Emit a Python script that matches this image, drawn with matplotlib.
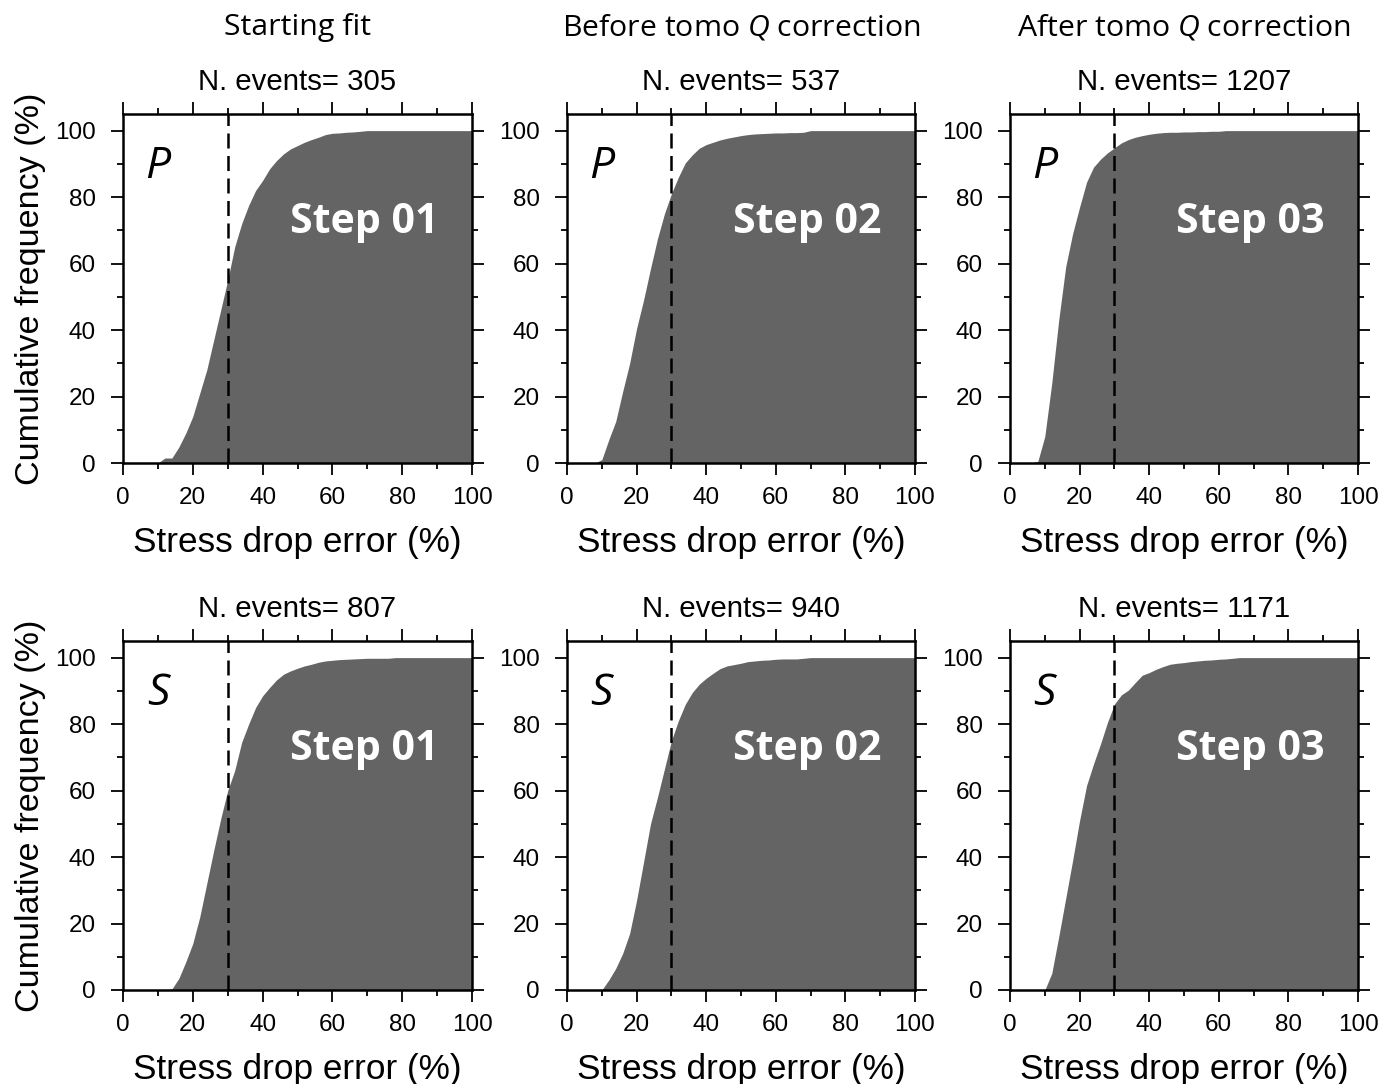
import numpy as np
import matplotlib
matplotlib.use("Agg")
import matplotlib.pyplot as plt
from matplotlib.ticker import MultipleLocator

# ── cumulative distributions of stress-drop error, sampled every 2 % ─────────
ERR = np.arange(0, 101, 2)

P_STEP01 = [0, 0, 0, 0, 0, 0, 1.5, 1.5, 4.8, 9, 14, 21, 28, 37, 46, 55, 65,
            72, 77.5, 82, 85, 88.5, 91, 93, 94.5, 95.5, 96.5, 97.3, 98, 98.8,
            99.2, 99.3, 99.5, 99.6, 99.8, 100, 100, 100, 100, 100, 100, 100,
            100, 100, 100, 100, 100, 100, 100, 100, 100]
P_STEP02 = [0, 0, 0, 0, 0, 1, 7, 12.5, 21.5, 30, 40.5, 49, 58.5, 67.5, 75,
            81, 86, 90.3, 92.7, 94.7, 95.8, 96.5, 97.2, 97.7, 98.1, 98.5, 98.8,
            99, 99.1, 99.2, 99.3, 99.3, 99.4, 99.4, 99.5, 100, 100, 100, 100,
            100, 100, 100, 100, 100, 100, 100, 100, 100, 100, 100, 100]
P_STEP03 = [0, 0, 0, 0, 0.5, 8, 24, 43, 59, 69, 77, 84.5, 89, 91.4, 93.3,
            94.8, 96.3, 97.3, 98, 98.5, 98.9, 99.2, 99.4, 99.5, 99.5, 99.6,
            99.6, 99.7, 99.7, 99.8, 99.8, 100, 100, 100, 100, 100, 100, 100,
            100, 100, 100, 100, 100, 100, 100, 100, 100, 100, 100, 100, 100]
S_STEP01 = [0, 0, 0, 0, 0, 0, 0, 0.3, 3.5, 8.5, 14, 22, 32, 42, 51.5, 60, 66,
            74.5, 80, 85, 88.5, 91, 93.3, 95, 96, 96.8, 97.5, 98, 98.6, 99,
            99.2, 99.4, 99.5, 99.6, 99.7, 99.8, 99.8, 99.8, 99.8, 100, 100,
            100, 100, 100, 100, 100, 100, 100, 100, 100, 100]
S_STEP02 = [0, 0, 0, 0, 0, 0, 3, 6.5, 11, 17, 27, 38.5, 50, 58, 66.5, 75, 81,
            86, 89.5, 92, 93.8, 95.3, 96.7, 97.5, 97.9, 98.3, 98.8, 99, 99.2,
            99.3, 99.5, 99.6, 99.6, 99.6, 99.8, 100, 100, 100, 100, 100, 100,
            100, 100, 100, 100, 100, 100, 100, 100, 100, 100]
S_STEP03 = [0, 0, 0, 0, 0, 0, 5, 16, 27.5, 39, 51, 61.5, 68, 74, 80.5, 86,
            88.8, 90.2, 92.5, 94.7, 95.5, 96.5, 97.3, 98, 98.3, 98.5, 98.8, 99,
            99.2, 99.3, 99.5, 99.6, 99.8, 100, 100, 100, 100, 100, 100, 100,
            100, 100, 100, 100, 100, 100, 100, 100, 100, 100, 100]

COLUMN_TITLES = ["Starting fit", r"Before tomo $\mathit{Q}$ correction",
                 r"After tomo $\mathit{Q}$ correction"]
STEP_LABELS = ["Step 01", "Step 02", "Step 03"]
PHASES = ["P", "S"]
N_EVENTS = [[305, 537, 1207], [807, 940, 1171]]
CURVES = [[P_STEP01, P_STEP02, P_STEP03], [S_STEP01, S_STEP02, S_STEP03]]
THRESHOLD = 30

FILL = "#646464"
TICK_FONT = "Liberation Sans"
TITLE_FONT = "Open Sans"

plt.rcParams["mathtext.fontset"] = "custom"
plt.rcParams["mathtext.rm"] = TITLE_FONT
plt.rcParams["mathtext.it"] = TITLE_FONT + ":italic"

W, H = 1396, 1084
fig = plt.figure(figsize=(W / 100, H / 100), dpi=100)

# panel frames in pixels: (left, right) per column, (top, bottom) per row
COL_PX = [(123, 472), (567, 915), (1010, 1358)]
ROW_PX = [(114, 463), (641, 990)]


def draw_panel(ax, cdf, phase, step, n_events, first_col):
    ax.fill_between(ERR, 0, cdf, color=FILL, linewidth=0)
    ax.axvline(THRESHOLD, color="black", linewidth=1.8, dashes=(6, 3))
    ax.set_xlim(0, 100)
    ax.set_ylim(0, 105)

    ax.xaxis.set_major_locator(MultipleLocator(20))
    ax.xaxis.set_minor_locator(MultipleLocator(10))
    ax.yaxis.set_major_locator(MultipleLocator(20))
    ax.yaxis.set_minor_locator(MultipleLocator(10))
    ax.tick_params(which="both", direction="out", top=True, right=True,
                   width=1.3, labelsize=17.5)
    ax.tick_params(which="major", length=8.5)
    ax.tick_params(which="minor", length=4.3)
    ax.tick_params(axis="x", pad=9)
    ax.tick_params(axis="y", pad=11)
    for lab in ax.get_xticklabels() + ax.get_yticklabels():
        lab.set_fontfamily(TICK_FONT)
    for sp in ax.spines.values():
        sp.set_linewidth(1.8)

    ax.set_xlabel("Stress drop error (%)", fontsize=25.3, family=TICK_FONT,
                  va="center")
    ax.xaxis.set_label_coords(0.5, -0.229)
    if first_col:
        ax.set_ylabel("Cumulative frequency (%)", fontsize=24.5,
                      family=TICK_FONT, va="center")
        ax.yaxis.set_label_coords(-0.266, 0.5)

    ax.text(0.5, 1.0917, f"N. events= {n_events}", transform=ax.transAxes,
            ha="center", va="center", fontsize=21.2, family=TICK_FONT)
    ax.text(10, 89, phase, ha="center", va="center", fontsize=32,
            family=TITLE_FONT, style="italic")
    ax.text(69, 72.5, step, ha="center", va="center", fontsize=29.6,
            family=TITLE_FONT, weight="bold", color="white")


for r, (top, bot) in enumerate(ROW_PX):
    for c, (left, right) in enumerate(COL_PX):
        ax = fig.add_axes([left / W, 1 - bot / H, (right - left) / W,
                           (bot - top) / H])
        draw_panel(ax, CURVES[r][c], PHASES[r], STEP_LABELS[c],
                   N_EVENTS[r][c], c == 0)

for c, (left, right) in enumerate(COL_PX):
    fig.text((left + right) / 2 / W, 1 - 27 / H, COLUMN_TITLES[c],
             ha="center", va="center", fontsize=21.8, family=TITLE_FONT)

fig.savefig("out.png", dpi=100)
